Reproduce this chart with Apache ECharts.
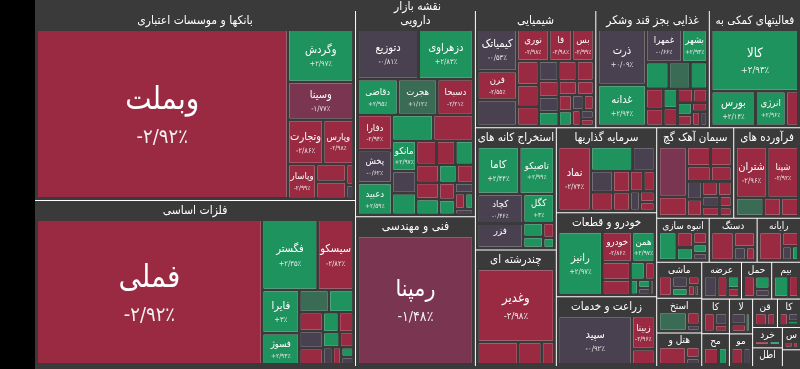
<!DOCTYPE html>
<html>
<head>
<meta charset="utf-8">
<script src="https://cdn.jsdelivr.net/npm/echarts@6/dist/echarts.min.js"></script>
<style>
  html, body { margin: 0; padding: 0; background: #000; }
  #marketMap { position: absolute; left: 35px; top: 0; width: 765px; height: 369px; background: #3a3a3a; }
</style>
</head>
<body>
<div id="marketMap"></div>
<script>
// each stock: [symbol, size, change %]
const banks = [
  ['وبملت', 42000, -2.92], ['وگردش', 3400, 2.97], ['وسینا', 2450, -1.77],
  ['وتجارت', 1550, -2.86], ['وپارس', 1330, -2.98], ['وپاسار', 960, -2.99],
  ['', 520, -2.7], ['', 500, -2.9], ['', 150, -2.5], ['', 100, -0.4]
]
const metals = [
  ['فملی', 31000, -2.92], ['فگستر', 3700, 2.35], ['سیسکو', 2400, -2.82],
  ['فایرا', 1520, 3], ['فسوژ', 1100, 2.93], ['', 620, 1.1], ['', 520, 2.6],
  ['', 420, -2.8], ['', 380, -0.5], ['', 360, -2.6], ['', 300, 2.4], ['', 280, -2.9],
  ['', 240, 2.2], ['', 200, -2.7], ['', 160, -0.3], ['', 140, -2.5], ['', 110, 2.1], ['', 90, -0.6]
]
const pharma = [
  ['دتوزیع', 2820, -0.81], ['دزهراوی', 2540, 2.83], ['دقاضی', 1330, 2.95],
  ['هجرت', 1300, 1.12], ['دسبحا', 1190, -2.21], ['دفارا', 1150, -2.94],
  ['پخش', 1050, -0.62], ['دعبید', 1020, 2.59], ['', 1000, 2.6], ['', 980, -2.7],
  ['مانکو', 680, 2.97], ['', 500, -0.4], ['', 480, 2.5], ['', 450, -2.8], ['', 420, -2.6],
  ['', 400, 2.7], ['', 380, -2.9], ['', 350, -2.5], ['', 330, 2.3], ['', 300, 2.8],
  ['', 280, -2.7], ['', 250, -2.4], ['', 220, 2.6], ['', 180, -0.5], ['', 150, -2.9],
  ['', 120, 2.2], ['', 100, -0.3]
]
const tech = [['رمپنا', 13000, -1.48]]
const chemistry = [
  ['کیمیاتک', 1600, -0.53], ['فرن', 1100, -2.55], ['', 1000, -0.3], ['نوری', 980, -2.98],
  ['فارس', 700, -2.98], ['بس', 660, -2.99], ['', 500, -2.8], ['', 450, -2.9], ['', 400, -2.7],
  ['', 380, -0.4], ['', 350, -2.9], ['', 330, -2.6], ['', 310, -2.8], ['', 290, -0.5],
  ['', 270, 2.5], ['', 250, -2.9], ['', 230, -2.7], ['', 210, -2.8], ['', 190, 2.4],
  ['', 170, -0.6], ['', 150, -2.9], ['', 130, -2.5], ['', 110, -0.3], ['', 90, -2.8]
]
const food = [
  ['ذرت', 2700, 0.09], ['غدانه', 2000, 2.94], ['غمهرا', 1190, -0.66], ['بشهر', 840, 2.93],
  ['', 600, 2.5], ['', 580, 1.1], ['', 450, 2.7], ['', 350, -2.8], ['', 300, -2.6],
  ['', 280, 2.4], ['', 250, -2.9], ['', 220, -2.7], ['', 200, -2.5], ['', 180, 2.2],
  ['', 160, -2.8], ['', 140, -2.9], ['', 120, -2.6], ['', 100, -0.4]
]
const support = [['کالا', 5400, 2.93], ['بورس', 1530, 2.14], ['انرژی', 1050, 2.96], ['', 440, -2.8]]
const mining = [
  ['کاما', 1760, 2.44], ['تاصیکو', 1470, 2.99], ['کچاد', 1200, -0.46], ['فزر', 1000, -0.5],
  ['کگل', 800, 3], ['', 250, 2.5], ['', 200, 2.6], ['', 150, -2.7], ['', 100, 2.2]
]
const multi = [['وغدیر', 5160, -2.98], ['', 840, -2.8], ['', 480, -2.7], ['', 260, -2.6]]
const invest = [
  ['نماد', 1970, -2.74], ['', 940, 2.5], ['', 500, -0.5], ['', 450, -0.4], ['', 380, -2.8],
  ['', 350, -2.7], ['', 300, -2.9], ['', 260, -2.6], ['', 220, -2.8], ['', 180, -0.3],
  ['', 150, -2.7], ['', 120, -2.5]
]
const auto = [
  ['رانیز', 2690, 2.97], ['خودرو', 870, -2.86], ['همن', 660, 2.97], ['', 490, -2.8],
  ['', 400, -2.7], ['', 250, 2.5], ['', 170, -2.6], ['', 110, 2.3], ['', 100, 2.4],
  ['', 80, -0.4], ['', 60, -0.3]
]
const agri = [['سپید', 3450, -0.92], ['زبینا', 730, -2.96], ['', 330, -2.8]]
const cement = [
  ['', 1540, -1.6], ['', 600, -2.8], ['', 500, -2.7], ['', 450, -2.9], ['', 400, -2.6],
  ['', 350, -2.8], ['', 300, -0.5], ['', 280, -2.7], ['', 250, -2.9], ['', 220, -2.5],
  ['', 200, -0.4], ['', 180, -2.8], ['', 150, -2.6], ['', 120, -2.9]
]
const refinery = [['شتران', 1500, -2.96], ['شپنا', 1480, -2.92], ['', 480, 1.2], ['', 300, -2.7], ['', 300, -2.8]]
const housing = [['', 600, 2.6], ['', 300, -2.7], ['', 250, 2.4], ['', 200, -2.8], ['', 150, 2.2], ['', 120, -0.5]]
const electric = [['', 800, -2.9], ['', 400, -2.7], ['', 200, -0.4], ['', 150, -2.5]]
const computer = [['', 700, -2.8], ['', 250, -2.6], ['', 150, -0.3], ['', 100, 2.4]]
const machinery = [['', 500, -2.8], ['', 350, -0.5], ['', 250, 2.5], ['', 200, -2.7], ['', 150, -2.9], ['', 100, -0.4]]
const oil = [['', 1000, 1.3], ['', 300, -2.6], ['', 150, -0.4]]
const hotel = [['', 800, -2.8], ['', 250, -2.7], ['', 150, -0.5]]
const power = [['', 400, -0.5], ['', 300, -2.8], ['', 200, 2.3], ['', 150, -2.6]]
const transport = [['', 400, -2.7], ['', 300, 2.5], ['', 200, -0.4]]
const insurance = [['', 300, 2.5], ['', 200, -2.7]]
const mineral = [['', 350, -2.8], ['', 250, -0.5], ['', 150, -2.7]]
const paper = [['', 250, -2.8], ['', 150, 2.6]]
const tire = [['', 300, -0.4], ['', 200, -2.8], ['', 150, 2.4]]
const materials = [['', 250, -2.6], ['', 150, -0.4]]
const sugar = [['', 300, -2.9], ['', 200, -2.6]]
const tile = [['', 250, -2.7], ['', 200, -0.5], ['', 100, 2.3]]
const retail = [['', 200, -2.8], ['', 150, 2.4]]
const telecom = [['', 200, -0.5], ['', 120, -2.7]]
const metalWorks = [['', 150, -2.8], ['', 100, -2.6]]
const brokers = [['', 200, -2.7], ['', 100, -0.4]]

const groupNames = [
  'بانکها و موسسات اعتباری', 'فلزات اساسی', 'دارویی', 'فنی و مهندسی', 'شیمیایی',
  'غذایی بجز قند وشکر', 'فعالیتهای کمکی به', 'استخراج کانه های', 'چندرشته ای',
  'سرمایه گذاریها', 'خودرو و قطعات', 'زراعت و خدمات', 'سیمان آهک گچ', 'فرآورده های',
  'انبوه سازی', 'دستگاههای', 'رایانه', 'ماشین آلات', 'استخراج نفت', 'هتل و رستوران',
  'عرضه برق', 'حمل و نقل', 'بیمه و صندوق', 'کانی غیرفلزی', 'محصولات کاغذی', 'لاستیک',
  'مواد و محصولات', 'قند و شکر', 'کاشی و سرامیک', 'خرده فروشی', 'اطلاعات و ارتباطات',
  'ساخت محصولات فلزی', 'واسطه گری'
]
const groupValues = [
  60500, 52800, 24500, 17800, 14000, 13200, 10600, 9800, 9350, 8450, 8350, 6950, 6900, 5980,
  2300, 2100, 1900, 1600, 1550, 1500, 1450, 1100, 1050, 950, 900, 800, 750, 700, 650, 600,
  550, 400, 300
]
const groupStocks = [
  banks, metals, pharma, tech, chemistry, food, support, mining, multi, invest, auto, agri,
  cement, refinery, housing, electric, computer, machinery, oil, hotel, power, transport,
  insurance, mineral, paper, tire, materials, sugar, tile, retail, telecom, metalWorks, brokers
]

const bg = '#3a3a3a'
const font = "'DejaVu Sans Condensed', 'DejaVu Sans', sans-serif"

function colorFor(c) {
  if (c >= 2) return '#1f935e'
  if (c >= 1) return '#3a6b55'
  if (c > -1) return '#4a4150'
  if (c > -2) return '#7a3550'
  return '#9a2a42'
}

function pctText(c) {
  let s = Math.abs(c).toFixed(2).replace(/\.?0+$/, '')
  s = s.replace(/\d/g, d => '۰۱۲۳۴۵۶۷۸۹'[d]).replace('.', '/')
  return (c >= 0 ? '+' : '-') + s + '٪'
}

function sizeKey(v) {
  if (v >= 20000) return 'xl'
  if (v >= 8000) return 'l'
  if (v >= 4000) return 'm'
  if (v >= 1500) return 's'
  return 'xs'
}

function headerStyle(v) {
  if (v >= 12000) return { fontSize: 12, height: 20, overflow: 'none' }
  if (v >= 4000) return { fontSize: 11.5, height: 20, overflow: 'none' }
  return { fontSize: 10, height: 15 }
}

// label text styles, and the height of the two-line block for each size
const rich = {
  xlN: { fontSize: 31, lineHeight: 48, color: '#fff' },
  xlP: { fontSize: 20, lineHeight: 26, color: '#f2f2f2' },
  lN: { fontSize: 23, lineHeight: 34, color: '#fff' },
  lP: { fontSize: 14, lineHeight: 20, color: '#f2f2f2' },
  mN: { fontSize: 13, lineHeight: 21, color: '#fff' },
  mP: { fontSize: 9.5, lineHeight: 14, color: '#eee' },
  sN: { fontSize: 11, lineHeight: 17, color: '#fff' },
  sP: { fontSize: 7.5, lineHeight: 11, color: '#e6e6e6' },
  xsN: { fontSize: 9.5, lineHeight: 14, color: '#fff' },
  xsP: { fontSize: 6.5, lineHeight: 9, color: '#e6e6e6' }
}
const blockHeight = { xl: 74, l: 54, m: 35, s: 28, xs: 23 }
for (let i = 1; i <= 80; i++) rich['g' + i] = { fontSize: 1, lineHeight: i }

let data = groupNames.map((g, i) => ({
  name: g,
  value: groupValues[i],
  upperLabel: headerStyle(groupValues[i]),
  children: groupStocks[i].map(s => ({
    name: s[0],
    value: s[1],
    change: s[2],
    itemStyle: { color: colorFor(s[2]) }
  }))
}))

let marketMap = echarts.init(document.getElementById('marketMap'))

function leafLabel(p) {
  if (!p.name) return ''
  let k = sizeKey(p.value)
  let gap = 0
  try {
    let box = marketMap.getModel().getSeriesByIndex(0).getData().getItemLayout(p.dataIndex)
    if (box) gap = Math.min(80, Math.max(0, Math.round((box.height - blockHeight[k]) / 2)))
  } catch (e) {}
  let text = '{' + k + 'N|' + p.name + '}\n{' + k + 'P|' + pctText(p.data.change) + '}'
  return gap > 0 ? '{g' + gap + '| }\n' + text : text
}

marketMap.setOption({
  backgroundColor: bg,
  textStyle: { fontFamily: font },
  title: {
    text: 'نقشه بازار',
    left: 'center',
    top: -4,
    textStyle: { color: '#fff', fontSize: 12, fontWeight: 'normal', fontFamily: font }
  },
  series: [
    {
      type: 'treemap',
      left: 0,
      right: 0,
      top: 11,
      bottom: 3,
      squareRatio: 1,
      roam: false,
      nodeClick: false,
      animation: false,
      drillDownIcon: '',
      breadcrumb: { show: false },
      levels: [
        {
          itemStyle: { color: bg, borderWidth: 0, gapWidth: 1 }
        },
        {
          itemStyle: { color: bg, borderColor: bg, borderWidth: 3, gapWidth: 3 },
          upperLabel: {
            show: true,
            height: 20,
            padding: 0,
            color: '#fff',
            fontSize: 12,
            fontFamily: font,
            position: 'inside',
            align: 'center',
            verticalAlign: 'middle',
            ellipsis: '',
            formatter: '{b}'
          }
        },
        {
          itemStyle: { borderWidth: 0, gapWidth: 0 },
          label: {
            show: true,
            padding: 0,
            position: 'inside',
            align: 'center',
            verticalAlign: 'middle',
            fontFamily: font,
            ellipsis: '',
            formatter: leafLabel,
            rich: rich
          }
        }
      ],
      data: data
    }
  ]
})
</script>
</body>
</html>
